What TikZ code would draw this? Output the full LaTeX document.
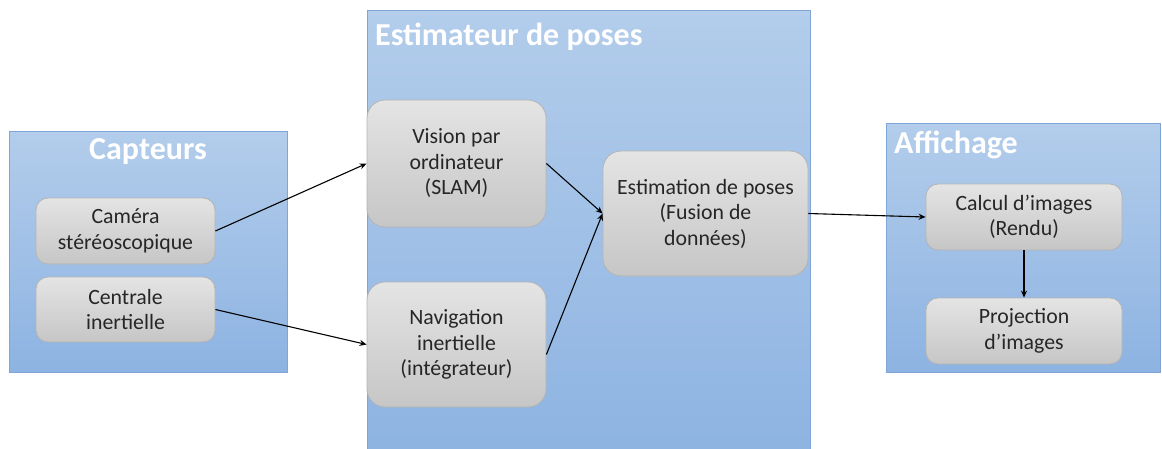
\documentclass[tikz,border=0pt]{standalone}
\usepackage{fontspec}
\setmainfont{Carlito}
\usetikzlibrary{arrows.meta}
\definecolor{bluetop}{HTML}{B3CDEB}
\definecolor{bluebot}{HTML}{8DB3E2}
\definecolor{blueedge}{HTML}{7EA6D9}
\definecolor{graytop}{HTML}{E4E4E4}
\definecolor{graybot}{HTML}{C6C6C6}
\definecolor{grayedge}{HTML}{B4B4B4}
\definecolor{txt}{HTML}{262626}
\tikzset{
  group/.style={draw=blueedge, line width=1pt, top color=bluetop, bottom color=bluebot, inner sep=0pt},
  titletext/.style={text=white, font=\fontsize{32}{36}\selectfont\bfseries, inner sep=0pt},
  box/.style={draw=grayedge, line width=0.8pt, rounded corners=12pt, top color=graytop, bottom color=graybot,
    align=center, text=txt, font=\fontsize{21.8}{25.5}\selectfont, inner sep=0pt},
  arr/.style={draw=black, line width=1.1pt, -{Stealth[length=7pt,width=6pt]}}
}
\begin{document}
\begin{tikzpicture}[x=1pt,y=-1pt]
\useasboundingbox (0,0) rectangle (1162,448);
% groups
\path[group] (9,131) rectangle (287,372);
\path[group] (367,10) rectangle (810,460);
\path[group] (886,123) rectangle (1160,372);
% titles
\node[titletext] (tcapt) at (148,152) {Capteurs};
\node[titletext, anchor=west] (testim) at (375,37) {Estimateur de poses};
\node[titletext, anchor=west] (taff) at (894,145) {Affichage};
% boxes
\node[box, minimum width=179pt, minimum height=66pt] (cam) at (125.5,231) {Caméra\\stéréoscopique};
\node[box, minimum width=179pt, minimum height=65pt] (cen) at (125.5,309.5) {Centrale\\inertielle};
\node[box, minimum width=179pt, minimum height=127pt, rounded corners=18pt] (vis) at (456.5,163.5) {Vision par\\ordinateur\\(SLAM)};
\node[box, minimum width=179pt, minimum height=125pt, rounded corners=18pt] (nav) at (456.5,344.5) {Navigation\\inertielle\\(intégrateur)};
\node[box, minimum width=205pt, minimum height=125pt, rounded corners=18pt] (est) at (705.5,213.5) {Estimation de poses\\(Fusion de\\données)};
\node[box, minimum width=196pt, minimum height=66pt] (cal) at (1024,217) {Calcul d’images\\(Rendu)};
\node[box, minimum width=196pt, minimum height=66pt] (pro) at (1024,331) {Projection\\d’images};
% arrows
\draw[arr] (cam.east) -- (vis.west);
\draw[arr] (cen.east) -- (nav.west);
\draw[arr] (vis.east) -- (est.west);
\draw[arr] ([yshift=-10pt]nav.east) -- (est.west);
\draw[arr] (est.east) -- (cal.west);
\draw[arr] (cal.south) -- (pro.north);
\end{tikzpicture}
\end{document}
